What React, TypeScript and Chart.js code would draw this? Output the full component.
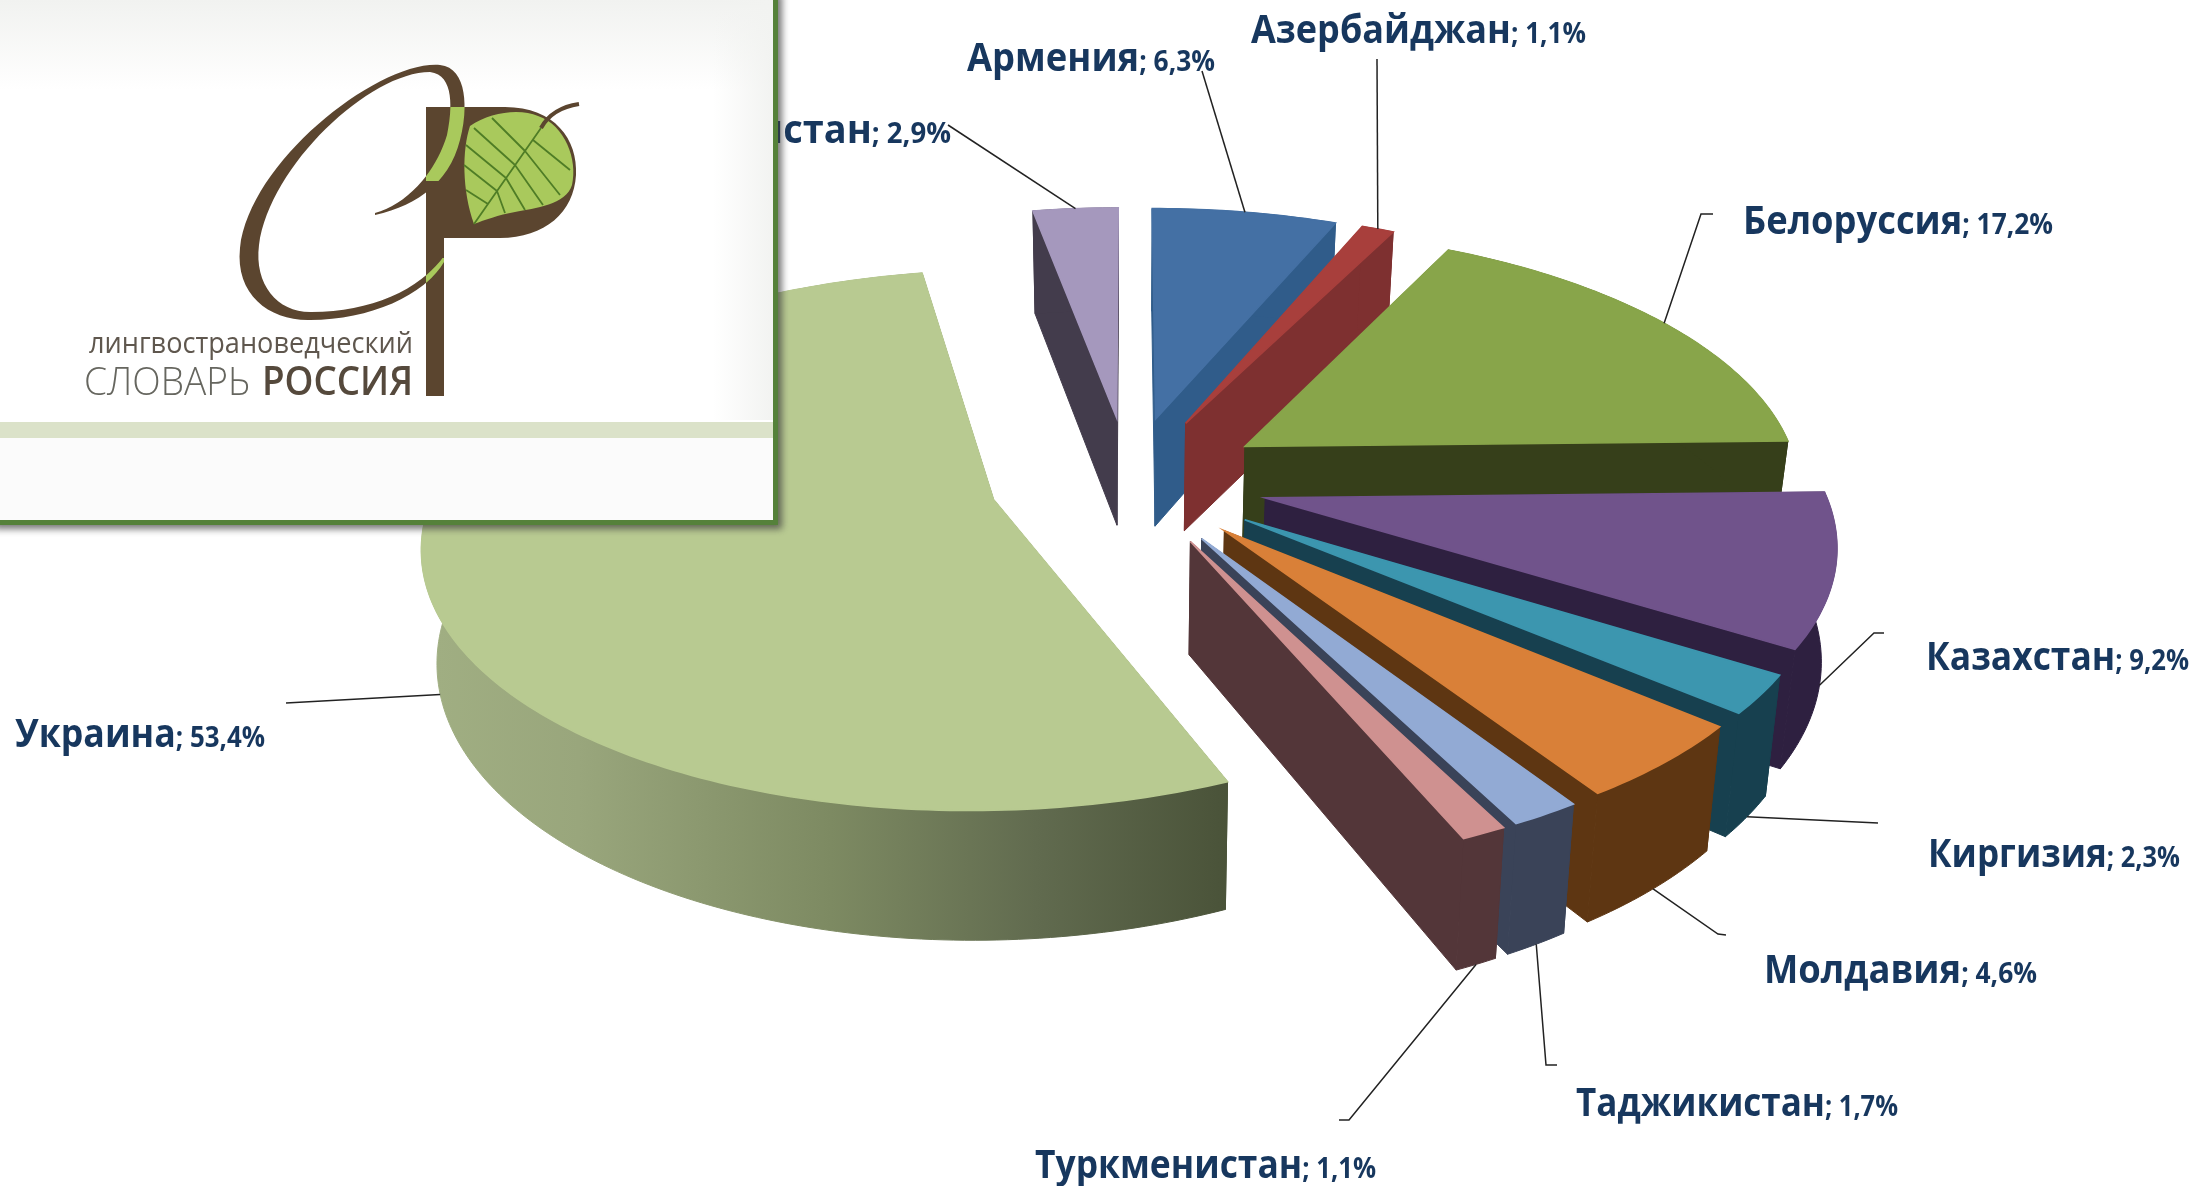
import React, { useEffect, useRef } from "react";
import { Chart, registerables } from "chart.js";

Chart.register(...registerables);

const categories = ["Армения", "Азербайджан", "Белоруссия", "Казахстан", "Киргизия", "Молдавия", "Таджикистан", "Туркменистан", "Украина", "Узбекистан"];
const shares = [6.3, 1.1, 17.2, 9.2, 2.3, 4.6, 1.7, 1.1, 53.4, 2.9];
const topColors = ["#4470a4", "#a83f3c", "#88a54a", "#70538b", "#3c96af", "#d98038", "#92aad4", "#cf9190", "#b8ca91", "#a598bd"];
const sideColors = ["#305c8a", "#7e3030", "#363f1a", "#2e2040", "#17404f", "#5e3612", "#3a4358", "#533639", "#7d8b62", "#433c4c"];

// label anchor: x, baseline, overall width (layout only)
const labelLayout = [
  [967, 71, 248], [1251, 43, 335], [1743, 234, 310], [1926, 670, 263], [1928, 867, 252],
  [1764, 983, 273], [1576, 1116, 322], [1035, 1178, 341], [15, 747, 250], [640, 143, 311],
];
// leader-line bends after the point on the slice (layout only)
const leaderBends = [
  [[1202, 71]], [[1377, 59]], [[1701, 214], [1713, 214]], [[1874, 633], [1884, 633]], [[1878, 823]],
  [[1718, 934], [1726, 935]], [[1546, 1065], [1557, 1065]], [[1349, 1120], [1339, 1120]], [[286, 703]], [[948, 125]],
];

const R0 = 560, PERSP = 0.15, SQUASH = 0.465, DEPTH = 110, NARROW = 0.022;
const NAVY = "#17375e";
const NAME_FONT = "bold 40px 'Open Sans'";
const VALUE_FONT = "bold 29px 'Open Sans'";

function project(cx: number, cy: number, X: number, Y: number, z: number) {
  const u = Y / R0;
  const s = 1 / (1 - PERSP * u);
  return {
    x: cx + X * s * (1 - NARROW * (z / DEPTH)),
    y: cy + Y * SQUASH * s + z * (1 + 0.115 * u + 0.05 * u * u),
  };
}

function sliceGeometry(el: any) {
  const { x, y, startAngle, endAngle, outerRadius } = el;
  const mid = (startAngle + endAngle) / 2;
  const d = (el.options.offset || 0) / 4;
  const ox = d * Math.cos(mid);
  const oy = d * Math.sin(mid);
  const n = Math.max(4, Math.ceil((endAngle - startAngle) * 60));
  const arc = (z: number) => {
    const pts = [];
    for (let i = 0; i <= n; i++) {
      const a = startAngle + ((endAngle - startAngle) * i) / n;
      pts.push(project(x, y, ox + outerRadius * Math.cos(a), oy + outerRadius * Math.sin(a), z));
    }
    return pts;
  };
  return {
    mid, ox, oy, x, y, outerRadius,
    topArc: arc(0),
    botArc: arc(DEPTH),
    topApex: project(x, y, ox, oy, 0),
    botApex: project(x, y, ox, oy, DEPTH),
  };
}

function poly(ctx: CanvasRenderingContext2D, pts: { x: number; y: number }[], fill: any, edge = 0.6) {
  ctx.beginPath();
  pts.forEach((p, i) => (i ? ctx.lineTo(p.x, p.y) : ctx.moveTo(p.x, p.y)));
  ctx.closePath();
  ctx.fillStyle = fill;
  ctx.strokeStyle = fill;
  ctx.lineWidth = edge;
  ctx.fill();
  ctx.stroke();
}

const pie3d = {
  id: "pie3d",
  beforeDatasetDraw(chart: any) {
    const ctx: CanvasRenderingContext2D = chart.ctx;
    const arcs = chart.getDatasetMeta(0).data;
    arcs.forEach((el: any, i: number) => {
      const g = sliceGeometry(el);
      let side: any = sideColors[i];
      let outer: any = side;
      if (shares[i] > 50) {
        const xs = g.botArc.map((p: any) => p.x);
        const grad = ctx.createLinearGradient(Math.min(...xs), 0, g.botArc[0].x, 0);
        grad.addColorStop(0, "#a0ae82");
        grad.addColorStop(0.18, "#99a67c");
        grad.addColorStop(0.5, "#7d8a62");
        grad.addColorStop(0.76, "#616b4f");
        grad.addColorStop(1, "#4a5339");
        outer = grad;
        side = "#4a5339";
      }
      const n = g.topArc.length - 1;
      poly(ctx, [g.topApex, g.topArc[0], g.botArc[0], g.botApex], side, 1);
      poly(ctx, [g.topApex, g.topArc[n], g.botArc[n], g.botApex], side, 1);
      poly(ctx, [...g.topArc, ...[...g.botArc].reverse()], outer, 1);
      poly(ctx, [g.topApex, ...g.topArc], el.options.backgroundColor, 1.6);
    });
    return false;
  },
  afterDraw(chart: any) {
    const ctx: CanvasRenderingContext2D = chart.ctx;
    const arcs = chart.getDatasetMeta(0).data;
    ctx.save();
    // labels
    categories.forEach((name, i) => {
      const [lx, ly, lw] = labelLayout[i];
      const value = "; " + String(shares[i]).replace(".", ",") + "%";
      ctx.font = NAME_FONT;
      const w1 = ctx.measureText(name).width;
      ctx.font = VALUE_FONT;
      const w2 = ctx.measureText(value).width;
      const hs = lw / (w1 + w2);
      ctx.save();
      ctx.translate(lx, ly);
      ctx.scale(hs, 1);
      ctx.fillStyle = NAVY;
      ctx.textBaseline = "alphabetic";
      ctx.textAlign = "left";
      ctx.font = NAME_FONT;
      ctx.fillText(name, 0, 0);
      ctx.font = VALUE_FONT;
      ctx.fillText(value, w1, 0);
      ctx.restore();
    });
    // leaders
    arcs.forEach((el: any, i: number) => {
      const g = sliceGeometry(el);
      const far = Math.sin(g.mid) < 0;
      const start = project(
        g.x, g.y,
        g.ox + g.outerRadius * Math.cos(g.mid),
        g.oy + g.outerRadius * Math.sin(g.mid),
        far ? 0 : DEPTH
      );
      ctx.beginPath();
      ctx.moveTo(start.x, start.y);
      leaderBends[i].forEach(([bx, by]) => ctx.lineTo(bx, by));
      ctx.strokeStyle = "#222222";
      ctx.lineWidth = 1.5;
      ctx.stroke();
    });
    drawLogo(ctx);
    ctx.restore();
  },
};

function drawLogo(ctx: CanvasRenderingContext2D) {
  const BW = 773, BH = 520;
  const BROWN = "#5b452f", LEAF = "#a9c95c";
  ctx.save();
  ctx.shadowColor = "rgba(60,60,60,0.7)";
  ctx.shadowBlur = 7;
  ctx.shadowOffsetX = 4;
  ctx.shadowOffsetY = 4;
  ctx.fillStyle = "#55813a";
  ctx.fillRect(-10, -10, BW + 15, BH + 15);
  ctx.restore();
  const bg = ctx.createLinearGradient(0, 0, 0, 90);
  bg.addColorStop(0, "#f1f2f0");
  bg.addColorStop(1, "#ffffff");
  ctx.fillStyle = bg;
  ctx.fillRect(0, 0, BW, BH);
  const edge = ctx.createLinearGradient(BW - 60, 0, BW, 0);
  edge.addColorStop(0, "rgba(242,243,241,0)");
  edge.addColorStop(1, "rgba(242,243,241,1)");
  ctx.fillStyle = edge;
  ctx.fillRect(BW - 60, 0, 60, 420);
  ctx.fillStyle = "#dbe2c9";
  ctx.fillRect(0, 422, BW, 16);
  ctx.fillStyle = "#fbfbfb";
  ctx.fillRect(0, 438, BW, BH - 438);

  // stem and bowl of the P
  ctx.fillStyle = BROWN;
  ctx.fill(new Path2D("M426 107 H505 C555 107 578 140 576 175 C574 212 545 238 500 238 H444 V396 H426 Z"));

  // script C
  const curve = new Path2D(
    "M375 213 C405 205 435 175 447 135 C452 110 455 75 430 72 C370 72 270 165 259 245 C254 285 278 313 312 312 " +
      "C370 312 420 290 444 256 L444 262 C425 295 370 320 310 320 C270 321 235 295 240 248 " +
      "C250 160 380 60 440 65 C468 68 468 110 460 140 C450 180 420 205 375 215 Z"
  );
  ctx.fill(curve);
  ctx.save();
  const band = new Path2D();
  band.rect(426, 107, 44, 74);
  band.rect(426, 258, 18, 30);
  ctx.clip(band);
  ctx.fillStyle = LEAF;
  ctx.fill(curve);
  ctx.restore();

  // leaf
  ctx.fillStyle = LEAF;
  ctx.fill(new Path2D("M474 224 C462 190 462 150 470 126 C490 112 520 108 538 116 C565 125 578 160 572 185 C566 205 535 208 515 212 C498 215 485 220 474 224 Z"));
  ctx.strokeStyle = "#4f7d26";
  ctx.lineWidth = 1.8;
  ctx.beginPath();
  ctx.moveTo(474, 224);
  ctx.lineTo(541, 128);
  const veins = [[488, 204, 466, 190], [497, 191, 464, 165], [506, 178, 466, 145], [515, 165, 474, 128], [525, 151, 492, 118],
    [497, 191, 505, 213], [506, 178, 525, 210], [515, 165, 543, 205], [525, 151, 560, 195], [533, 140, 570, 170]];
  veins.forEach(([a, b, c, d]) => {
    ctx.moveTo(a, b);
    ctx.lineTo(c, d);
  });
  ctx.stroke();
  ctx.strokeStyle = BROWN;
  ctx.lineWidth = 4;
  ctx.beginPath();
  ctx.moveTo(541, 128);
  ctx.quadraticCurveTo(552, 108, 579, 104);
  ctx.stroke();

  // logotype
  const text = (s: string, font: string, color: string, x: number, y: number, w: number) => {
    ctx.font = font;
    const m = ctx.measureText(s).width;
    ctx.save();
    ctx.translate(x, y);
    ctx.scale(w / m, 1);
    ctx.fillStyle = color;
    ctx.textAlign = "left";
    ctx.fillText(s, 0, 0);
    ctx.restore();
  };
  text("лингвострановедческий", "400 29px 'Open Sans'", "#5f574e", 89, 353, 324);
  text("СЛОВАРЬ", "300 39px 'Open Sans'", "#66665f", 84, 395, 166);
  text("РОССИЯ", "600 39px 'Open Sans'", "#55493c", 262, 395, 151);
}

export default function App() {
  const ref = useRef<HTMLCanvasElement>(null);
  useEffect(() => {
    document.body.style.margin = "0";
    document.body.style.background = "#fff";
    const chart = new Chart(ref.current as HTMLCanvasElement, {
      type: "pie",
      data: {
        labels: categories,
        datasets: [{ data: shares, backgroundColor: topColors, borderWidth: 0, offset: 560 }],
      },
      options: {
        animation: false,
        responsive: false,
        devicePixelRatio: 1,
        radius: 556,
        layout: { padding: { left: 61, right: 0, top: 0, bottom: 225 } },
        plugins: { legend: { display: false }, tooltip: { enabled: false }, title: { display: false } },
      } as any,
      plugins: [pie3d as any],
    });
    return () => chart.destroy();
  }, []);
  return <canvas ref={ref} width={2197} height={1186} style={{ display: "block" }} />;
}
